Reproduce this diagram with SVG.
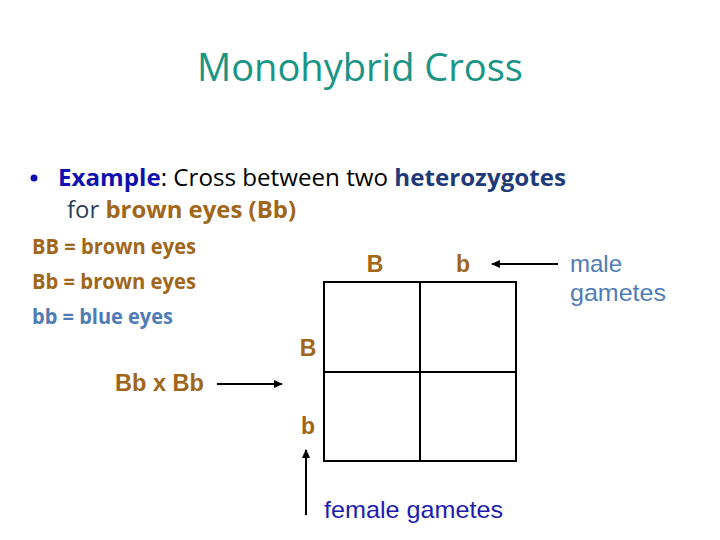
<svg xmlns="http://www.w3.org/2000/svg" width="720" height="540" viewBox="0 0 720 540">
<style>
.cal{font-family:"Open Sans","Liberation Sans",sans-serif}
.ar{font-family:"Liberation Sans",Arial,sans-serif}
.brown{fill:#A0661A}
.lblue{fill:#4F7CB5}
.b{font-weight:bold}
.ln{stroke:#000;stroke-width:2;fill:none}
</style>
<defs>
<marker id="ah" markerWidth="9" markerHeight="8" refX="8" refY="4" orient="auto" markerUnits="userSpaceOnUse">
<path d="M0,0 L9,4 L0,8 z" fill="#000"/>
</marker>
</defs>
<rect width="720" height="540" fill="#fff"/>
<g id="title"><text x="360" y="81" text-anchor="middle" class="cal" font-size="38" fill="#1A9484" textLength="326" lengthAdjust="spacingAndGlyphs">Monohybrid Cross</text></g>
<g id="bullet">
<circle cx="34" cy="178" r="3.5" fill="#1010B0"/>
<text x="58" y="186" class="cal" font-size="23" textLength="508" lengthAdjust="spacingAndGlyphs"><tspan class="b" fill="#1010B0">Example</tspan><tspan fill="#000">: Cross between two </tspan><tspan class="b" fill="#1F3A7A">heterozygotes</tspan></text>
<text x="67" y="218" class="cal" font-size="23" textLength="229" lengthAdjust="spacingAndGlyphs"><tspan fill="#2B3F5A">for </tspan><tspan class="b brown">brown eyes (Bb)</tspan></text>
</g>
<g id="legend" class="cal b" font-size="22">
<text x="32" y="254" class="brown" textLength="164" lengthAdjust="spacingAndGlyphs">BB = brown eyes</text>
<text x="32" y="289" class="brown" textLength="164" lengthAdjust="spacingAndGlyphs">Bb = brown eyes</text>
<text x="32" y="324" class="lblue" textLength="141" lengthAdjust="spacingAndGlyphs">bb = blue eyes</text>
</g>
<g id="punnett">
<rect x="324" y="282" width="192" height="179" class="ln" stroke-width="3"/>
<line x1="420" y1="282" x2="420" y2="461" class="ln" stroke-width="3"/>
<line x1="324" y1="372" x2="516" y2="372" class="ln" stroke-width="3"/>
</g>
<g id="labels" class="ar b brown" font-size="23" text-anchor="middle">
<text x="375" y="272">B</text>
<text x="463" y="272">b</text>
<text x="308" y="356">B</text>
<text x="308" y="434">b</text>
</g>
<g id="cross"><text x="115" y="391" class="ar b brown" font-size="23" textLength="89" lengthAdjust="spacingAndGlyphs">Bb x Bb</text></g>
<g id="male"><text class="ar lblue" font-size="24" x="570" y="272">male</text><text class="ar lblue" font-size="24" x="570" y="301" textLength="96" lengthAdjust="spacingAndGlyphs">gametes</text></g>
<g id="female"><text class="ar" font-size="24" x="324" y="518" fill="#1C1CB0" textLength="179" lengthAdjust="spacingAndGlyphs">female gametes</text></g>
<g id="connectors">
<line x1="558" y1="264" x2="492" y2="264" class="ln" marker-end="url(#ah)"/>
<line x1="217" y1="384" x2="282" y2="384" class="ln" marker-end="url(#ah)"/>
<line x1="306" y1="515" x2="306" y2="450" class="ln" marker-end="url(#ah)"/>
</g>
</svg>
